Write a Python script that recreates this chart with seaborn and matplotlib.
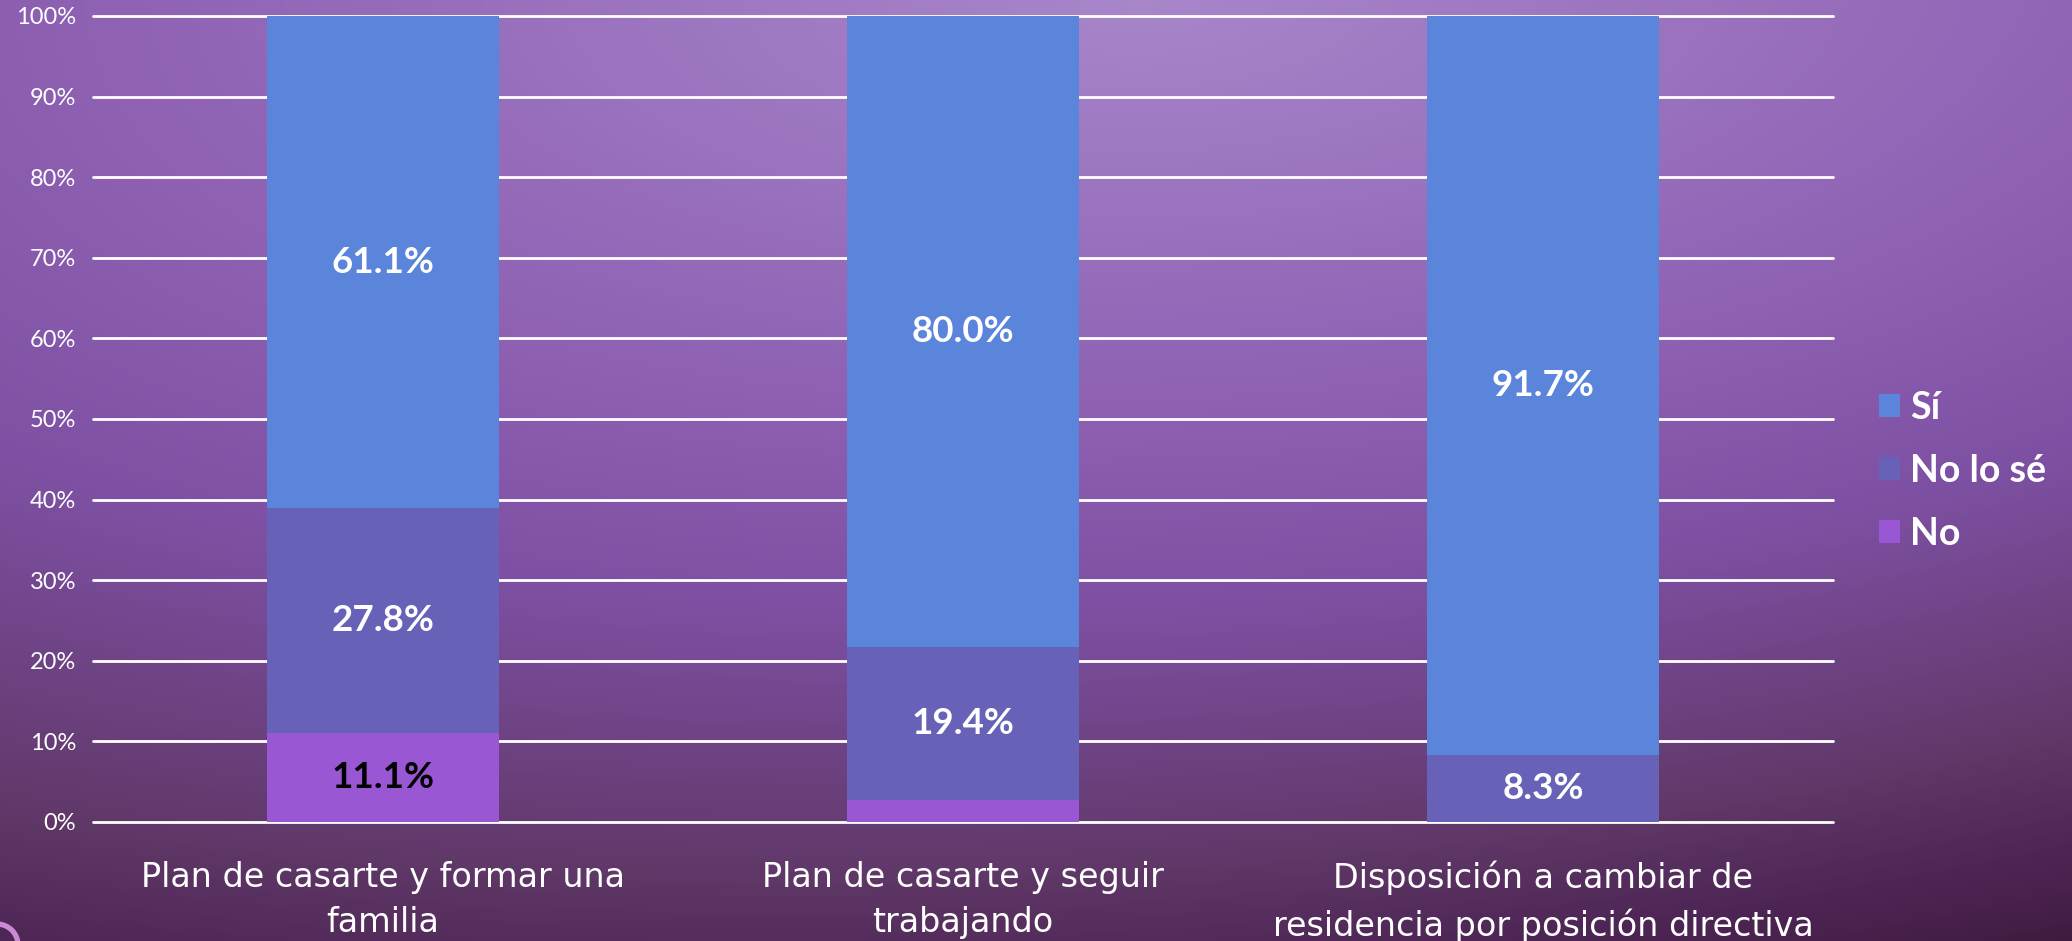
import numpy as np
import pandas as pd
import matplotlib
matplotlib.use("Agg")
import matplotlib.pyplot as plt
from matplotlib.colors import LinearSegmentedColormap
from matplotlib.patches import Ellipse, Patch
import seaborn as sns

# Survey answers per question (percent of respondents)
categories = [
    "Plan de casarte y formar una\nfamilia",
    "Plan de casarte y seguir\ntrabajando",
    "Disposición a cambiar de\nresidencia por posición directiva",
]
answers = ["Sí", "No lo sé", "No"]
si_values = [61.1, 80.0, 91.7]
nolose_values = [27.8, 19.4, 8.3]
no_values = [11.1, 2.8, 0.0]
y_ticks = [0, 10, 20, 30, 40, 50, 60, 70, 80, 90, 100]

colors = {"Sí": "#5B84DB", "No lo sé": "#6761B8", "No": "#9A57D3"}
label_colors = {"Sí": "white", "No lo sé": "white", "No": "black"}

sns.set_theme(style="white")
plt.rcParams["font.family"] = ["Lato", "DejaVu Sans"]

df = pd.DataFrame({
    "categoria": categories,
    "No": no_values,
    "No lo sé": nolose_values,
    "Sí": si_values,
})
total = df[["No", "No lo sé", "Sí"]].sum(axis=1)
share = df[["No", "No lo sé", "Sí"]].div(total, axis=0) * 100
cum = share.cumsum(axis=1)
df["top_No"] = cum["No"]
df["top_No lo sé"] = cum["No lo sé"]
df["top_Sí"] = cum["Sí"]

fig = plt.figure(figsize=(20.72, 9.41), dpi=100)

# Purple gradient backdrop
bg = fig.add_axes([0, 0, 1, 1], zorder=-10)
h, w = 300, 660
u = np.linspace(0, 1, w)[None, :]
v = np.linspace(0, 1, h)[:, None]
d = np.sqrt(((u - 0.55) / 1.1) ** 2 + v ** 2) + 0.15 * u * v
cmap_bg = LinearSegmentedColormap.from_list(
    "bgpurple",
    [(0.0, "#A886CA"), (0.36, "#8F62B4"), (0.56, "#7E50A3"),
     (0.80, "#5F3868"), (0.90, "#4E2656"), (1.0, "#3E1A3C")],
)
bg.imshow(d / 1.25, cmap=cmap_bg, vmin=0, vmax=1, aspect="auto",
          extent=[0, 1, 1, 0], interpolation="bicubic")
bg.set_xlim(0, 1)
bg.set_ylim(1, 0)
bg.axis("off")
# decorative ring in the lower-left corner
ring = Ellipse((-3 / 2072, 1 - 945 / 941), 2 * 21 / 2072, 2 * 21 / 941,
               transform=fig.transFigure, fill=False, edgecolor="#C98AD2",
               linewidth=3.8, zorder=-5)
fig.patches.append(ring)

ax = fig.add_axes([0.0447, 0.1265, 0.8400, 0.8565])
ax.set_facecolor("none")

# Stacked bars drawn from the tallest cumulative layer downwards
for ans in ["Sí", "No lo sé", "No"]:
    sns.barplot(data=df, x="categoria", y=f"top_{ans}", color=colors[ans],
                width=0.4, saturation=1, ax=ax, zorder=3, linewidth=0)

# Value labels centred within their segments
for i, row in df.iterrows():
    lower = 0.0
    for ans in ["No", "No lo sé", "Sí"]:
        upper = row[f"top_{ans}"]
        if ans == "No" and i == 1:
            lower = upper
            continue
        if row[ans] > 0:
            ax.text(i, (lower + upper) / 2, f"{row[ans]:.1f}%",
                    ha="center", va="center", fontsize=26.5, fontweight="bold",
                    color=label_colors[ans], zorder=5)
        lower = upper

ax.set_ylim(0, 100)
ax.set_yticks(y_ticks)
ax.set_yticklabels([f"{t}%" for t in y_ticks])
ax.yaxis.grid(True, color="white", linewidth=2.0)
ax.set_axisbelow(True)
for gl in ax.get_ygridlines():
    gl.set_clip_on(False)
    gl.set_zorder(1)
for sp in ax.spines.values():
    sp.set_visible(False)
ax.set_xlabel("")
ax.set_ylabel("")
ax.tick_params(axis="y", colors="white", labelsize=17, length=0, pad=12)
ax.tick_params(axis="x", colors="white", length=0, pad=28)
for lab in ax.get_xticklabels():
    lab.set_family(["DejaVu Sans"])
    lab.set_fontsize(24)
    lab.set_linespacing(1.47)

handles = [Patch(facecolor=colors[a], edgecolor="none") for a in answers]
leg = fig.legend(handles, answers, loc="center left",
                 bbox_to_anchor=(0.9068, 0.4995), frameon=False,
                 handlelength=0.56, handleheight=0.56, handletextpad=0.27,
                 labelspacing=0.77, borderpad=0, borderaxespad=0,
                 prop={"weight": "bold", "size": 27})
for t in leg.get_texts():
    t.set_color("white")

fig.savefig("out.png", dpi=100)
